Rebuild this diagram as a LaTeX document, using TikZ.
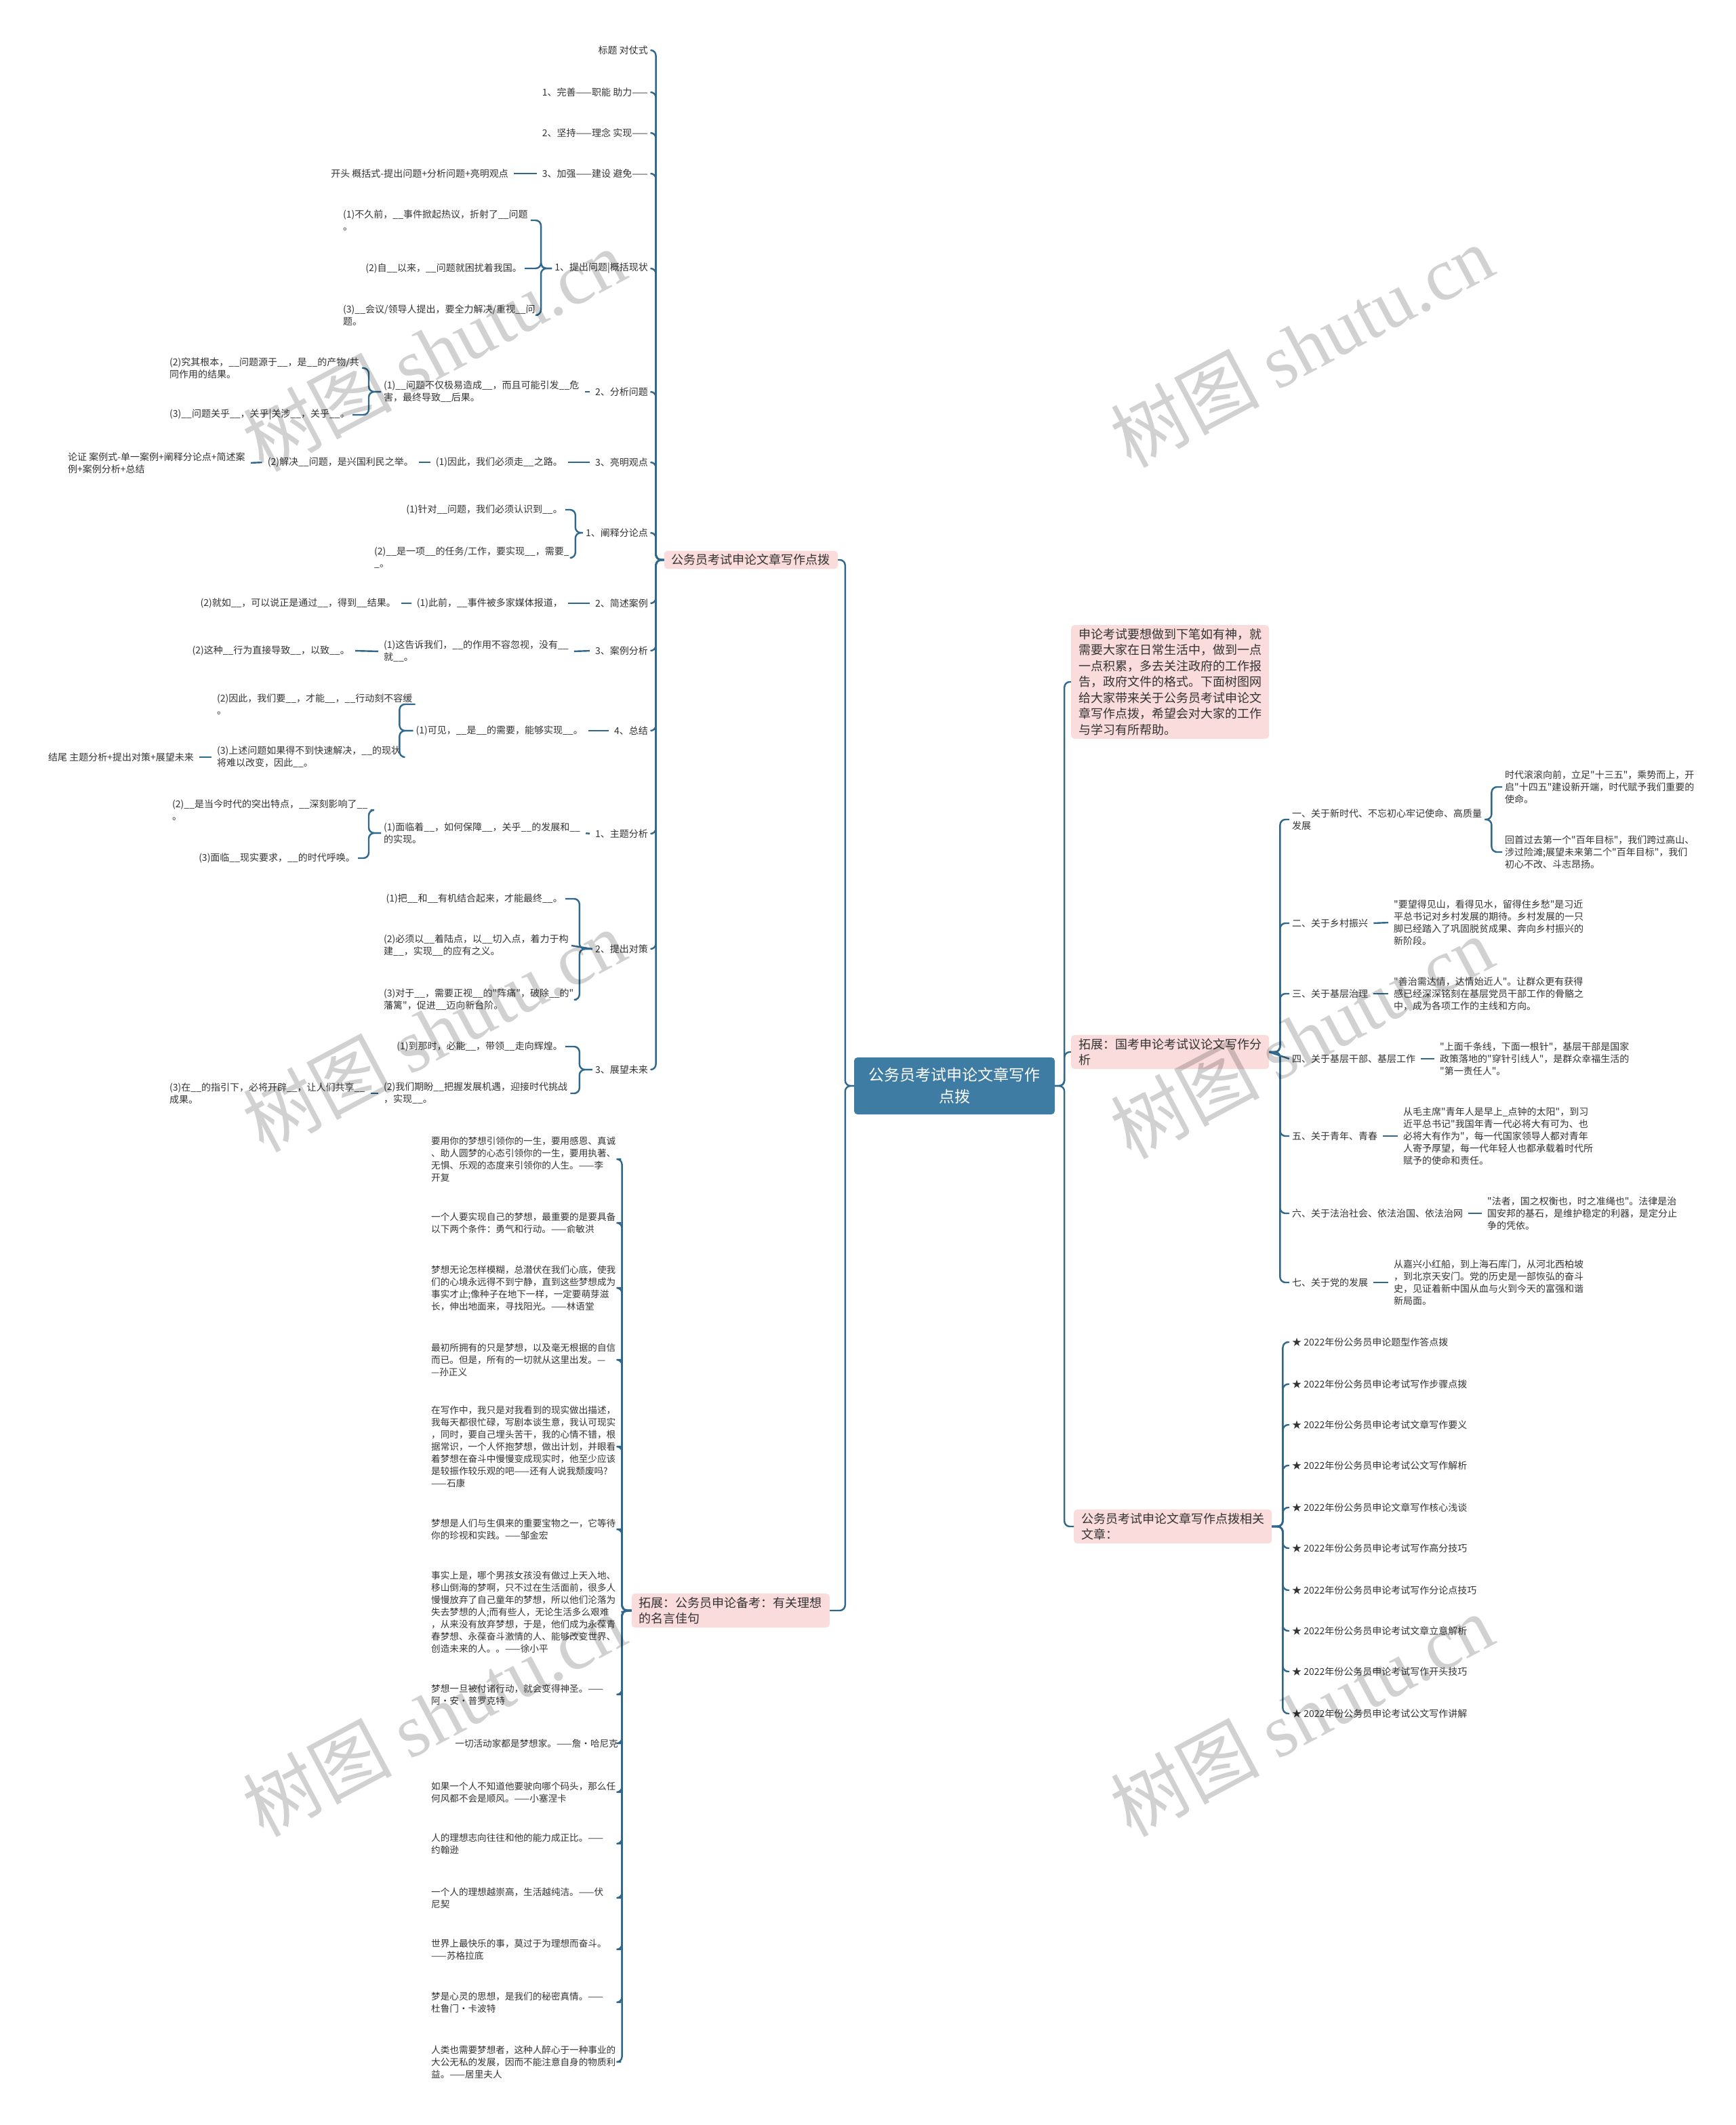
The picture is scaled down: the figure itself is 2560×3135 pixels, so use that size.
\documentclass[tikz,border=0pt]{standalone}
\usepackage{fontspec}
\setmainfont{Noto Sans CJK SC}[Ligatures=TeXOff]
\newfontfamily\wmlatin{Liberation Serif}
\definecolor{linec}{HTML}{2F688C}
\definecolor{rootc}{HTML}{3E7CA4}
\definecolor{pinkc}{HTML}{FADCDC}
\definecolor{txtc}{HTML}{333333}
\newcommand\blk{\_\_}
\begin{document}
\begin{tikzpicture}[x=1pt,y=-1pt,
  base/.style={font=\fontsize{14}{18}\selectfont, text=txtc, inner xsep=4pt, inner ysep=2pt, align=left},
  quote/.style={base, font=\fontsize{13.6}{18}\selectfont, text width=276pt},
  pinkbox/.style={fill=pinkc, rounded corners=5pt, font=\fontsize{18}{23.5}\selectfont, text=txtc, inner xsep=11pt, inner ysep=5pt, align=left},
  rootbox/.style={fill=rootc, rounded corners=5pt, font=\fontsize{23}{32}\selectfont, text=white, inner xsep=20pt, inner ysep=10pt, align=center, minimum width=296pt, minimum height=84pt},
  conn/.style={draw=linec, line width=2.4pt, rounded corners=8pt},
  link/.style={draw=linec, line width=2.4pt, shorten <=4pt, shorten >=4pt},
  wm/.style={font=\fontsize{110}{110}\selectfont, text=black, text opacity=0.18, inner sep=0pt}
]
\fill[white] (0,0) rectangle (2560,3135);
\useasboundingbox (0,0) rectangle (2560,3135);

% root
\node[rootbox] (root) at (1408,1602) {公务员考试申论文章写作\\点拨};

% ---------- left branch 1 ----------
\node[pinkbox, anchor=east] (b1) at (1236,826) {公务员考试申论文章写作点拨};

\node[base, anchor=east] (c1) at (960,74) {标题 对仗式};
\node[base, anchor=east] (c2) at (960,136) {1、完善——职能 助力——};
\node[base, anchor=east] (c3) at (960,196) {2、坚持——理念 实现——};
\node[base, anchor=east] (c4) at (960,256) {3、加强——建设 避免——};
\node[base, anchor=east] (c5) at (960,396) {1、提出问题|概括现状};
\node[base, anchor=east] (c6) at (960,578) {2、分析问题};
\node[base, anchor=east] (c7) at (960,682) {3、亮明观点};
\node[base, anchor=east] (c8) at (960,786) {1、阐释分论点};
\node[base, anchor=east] (c9) at (960,890) {2、简述案例};
\node[base, anchor=east] (c10) at (960,960) {3、案例分析};
\node[base, anchor=east] (c11) at (960,1078) {4、总结};
\node[base, anchor=east] (c12) at (960,1230) {1、主题分析};
\node[base, anchor=east] (c13) at (960,1400) {2、提出对策};
\node[base, anchor=east] (c14) at (960,1578) {3、展望未来};

\node[base, anchor=east] (c4d) at (754,256) {开头 概括式-提出问题+分析问题+亮明观点};

\node[base, anchor=west] (c5a) at (502,325) {(1)不久前，\blk 事件掀起热议，折射了\blk 问题\\。};
\node[base, anchor=east] (c5b) at (774,396) {(2)自\blk 以来，\blk 问题就困扰着我国。};
\node[base, anchor=west] (c5c) at (502,465) {(3)\blk 会议/领导人提出，要全力解决/重视\blk 问\\题。};

\node[base, anchor=west] (c6a) at (562,578) {(1)\blk 问题不仅极易造成\blk ，而且可能引发\blk 危\\害，最终导致\blk 后果。};
\node[base, anchor=west] (c6b) at (246,543) {(2)究其根本，\blk 问题源于\blk ，是\blk 的产物/共\\同作用的结果。};
\node[base, anchor=east] (c6c) at (520,612) {(3)\blk 问题关乎\blk ，关乎|关涉\blk ，关乎\blk 。};

\node[base, anchor=east] (c7a) at (834,682) {(1)因此，我们必须走\blk 之路。};
\node[base, anchor=east] (c7b) at (614,682) {(2)解决\blk 问题，是兴国利民之举。};
\node[base, anchor=west] (c7c) at (96,683) {论证 案例式-单一案例+阐释分论点+简述案\\例+案例分析+总结};

\node[base, anchor=east] (c8a) at (834,752) {(1)针对\blk 问题，我们必须认识到\blk 。};
\node[base, anchor=west] (c8b) at (548,823) {(2)\blk 是一项\blk 的任务/工作，要实现\blk ，需要\_\\\_。};

\node[base, anchor=east] (c9a) at (834,890) {(1)此前，\blk 事件被多家媒体报道，};
\node[base, anchor=east] (c9b) at (588,890) {(2)就如\blk ，可以说正是通过\blk ，得到\blk 结果。};

\node[base, anchor=west] (c10a) at (562,961) {(1)这告诉我们，\blk 的作用不容忽视，没有\blk\\就\blk 。};
\node[base, anchor=east] (c10b) at (520,960) {(2)这种\blk 行为直接导致\blk ，以致\blk 。};

\node[base, anchor=east] (c11a) at (864,1078) {(1)可见，\blk 是\blk 的需要，能够实现\blk 。};
\node[base, anchor=west] (c11b) at (316,1039) {(2)因此，我们要\blk ，才能\blk ，\blk 行动刻不容缓\\。};
\node[base, anchor=west] (c11c) at (316,1117) {(3)上述问题如果得不到快速解决，\blk 的现状\\将难以改变，因此\blk 。};
\node[base, anchor=east] (c11d) at (290,1117) {结尾 主题分析+提出对策+展望未来};

\node[base, anchor=west] (c12a) at (562,1229) {(1)面临着\blk ，如何保障\blk ，关乎\blk 的发展和\blk\\的实现。};
\node[base, anchor=west] (c12b) at (250,1195) {(2)\blk 是当今时代的突出特点，\blk 深刻影响了\blk\\。};
\node[base, anchor=east] (c12c) at (528,1266) {(3)面临\blk 现实要求，\blk 的时代呼唤。};

\node[base, anchor=east] (c13a) at (834,1326) {(1)把\blk 和\blk 有机结合起来，才能最终\blk 。};
\node[base, anchor=west] (c13b) at (562,1395) {(2)必须以\blk 着陆点，以\blk 切入点，着力于构\\建\blk ，实现\blk 的应有之义。};
\node[base, anchor=west] (c13c) at (562,1475) {(3)对于\blk ，需要正视\blk 的"阵痛"，破除\blk 的"\\藩篱"，促进\blk 迈向新台阶。};

\node[base, anchor=east] (c14a) at (834,1544) {(1)到那时，必能\blk ，带领\blk 走向辉煌。};
\node[base, anchor=west] (c14b) at (562,1613) {(2)我们期盼\blk 把握发展机遇，迎接时代挑战\\，实现\blk 。};
\node[base, anchor=west] (c14c) at (246,1613) {(3)在\blk 的指引下，必将开辟\blk ，让人们共享\blk\\成果。};

% ---------- left branch 2 (quotes) ----------
\node[pinkbox, anchor=east] (b2) at (1224,2376) {拓展：公务员申论备考：有关理想\\的名言佳句};

\node[quote, anchor=west] (q1) at (632,1710) {要用你的梦想引领你的一生，要用感恩、真诚\\、助人圆梦的心态引领你的一生，要用执著、\\无惧、乐观的态度来引领你的人生。——李\\开复};
\node[quote, anchor=west] (q2) at (632,1804) {一个人要实现自己的梦想，最重要的是要具备\\以下两个条件：勇气和行动。——俞敏洪};
\node[quote, anchor=west] (q3) at (632,1900) {梦想无论怎样模糊，总潜伏在我们心底，使我\\们的心境永远得不到宁静，直到这些梦想成为\\事实才止;像种子在地下一样，一定要萌芽滋\\长，伸出地面来，寻找阳光。——林语堂};
\node[quote, anchor=west] (q4) at (632,2006) {最初所拥有的只是梦想，以及毫无根据的自信\\而已。但是，所有的一切就从这里出发。—\\—孙正义};
\node[quote, anchor=west] (q5) at (632,2134) {在写作中，我只是对我看到的现实做出描述，\\我每天都很忙碌，写剧本谈生意，我认可现实\\，同时，要自己埋头苦干，我的心情不错，根\\据常识，一个人怀抱梦想，做出计划，并眼看\\着梦想在奋斗中慢慢变成现实时，他至少应该\\是较振作较乐观的吧——还有人说我颓废吗?\\——石康};
\node[quote, anchor=west] (q6) at (632,2256) {梦想是人们与生俱来的重要宝物之一，它等待\\你的珍视和实践。——邹金宏};
\node[quote, anchor=west] (q7) at (632,2378) {事实上是，哪个男孩女孩没有做过上天入地、\\移山倒海的梦啊，只不过在生活面前，很多人\\慢慢放弃了自己童年的梦想，所以他们沦落为\\失去梦想的人;而有些人，无论生活多么艰难\\，从来没有放弃梦想，于是，他们成为永葆青\\春梦想、永葆奋斗激情的人、能够改变世界、\\创造未来的人。。——徐小平};
\node[quote, anchor=west] (q8) at (632,2500) {梦想一旦被付诸行动，就会变得神圣。——\\阿·安·普罗克特};
\node[base, font=\fontsize{13.6}{18}\selectfont, anchor=east] (q9) at (916,2572) {一切活动家都是梦想家。——詹·哈尼克};
\node[quote, anchor=west] (q10) at (632,2644) {如果一个人不知道他要驶向哪个码头，那么任\\何风都不会是顺风。——小塞涅卡};
\node[quote, anchor=west] (q11) at (632,2720) {人的理想志向往往和他的能力成正比。——\\约翰逊};
\node[quote, anchor=west] (q12) at (632,2800) {一个人的理想越崇高，生活越纯洁。——伏\\尼契};
\node[quote, anchor=west] (q13) at (632,2876) {世界上最快乐的事，莫过于为理想而奋斗。\\——苏格拉底};
\node[quote, anchor=west] (q14) at (632,2954) {梦是心灵的思想，是我们的秘密真情。——\\杜鲁门·卡波特};
\node[quote, anchor=west] (q15) at (632,3042) {人类也需要梦想者，这种人醉心于一种事业的\\大公无私的发展，因而不能注意自身的物质利\\益。——居里夫人};

% ---------- right side ----------
\node[pinkbox, anchor=west] (ra) at (1580,1006) {申论考试要想做到下笔如有神，就\\需要大家在日常生活中，做到一点\\一点积累，多去关注政府的工作报\\告，政府文件的格式。下面树图网\\给大家带来关于公务员考试申论文\\章写作点拨，希望会对大家的工作\\与学习有所帮助。};
\node[pinkbox, anchor=west] (rb) at (1580,1552) {拓展：国考申论考试议论文写作分\\析};
\node[pinkbox, anchor=west] (rc) at (1584,2252) {公务员考试申论文章写作点拨相关\\文章：};

\node[base, anchor=west] (rr1) at (1902,1209) {一、关于新时代、不忘初心牢记使命、高质量\\发展};
\node[base, anchor=west] (rr1a) at (2216,1161) {时代滚滚向前，立足"十三五"，乘势而上，开\\启"十四五"建设新开端，时代赋予我们重要的\\使命。};
\node[base, anchor=west] (rr1b) at (2216,1257) {回首过去第一个"百年目标"，我们跨过高山、\\涉过险滩;展望未来第二个"百年目标"，我们\\初心不改、斗志昂扬。};
\node[base, anchor=west] (rr2) at (1902,1362) {二、关于乡村振兴};
\node[base, anchor=west] (rr2a) at (2052,1361) {"要望得见山，看得见水，留得住乡愁"是习近\\平总书记对乡村发展的期待。乡村发展的一只\\脚已经踏入了巩固脱贫成果、奔向乡村振兴的\\新阶段。};
\node[base, anchor=west] (rr3) at (1902,1466) {三、关于基层治理};
\node[base, anchor=west] (rr3a) at (2052,1466) {"善治需达情，达情始近人"。让群众更有获得\\感已经深深铭刻在基层党员干部工作的骨骼之\\中，成为各项工作的主线和方向。};
\node[base, anchor=west] (rr4) at (1902,1562) {四、关于基层干部、基层工作};
\node[base, anchor=west] (rr4a) at (2120,1562) {"上面千条线，下面一根针"，基层干部是国家\\政策落地的"穿针引线人"，是群众幸福生活的\\"第一责任人"。};
\node[base, anchor=west] (rr5) at (1902,1676) {五、关于青年、青春};
\node[base, anchor=west] (rr5a) at (2066,1676) {从毛主席"青年人是早上\_点钟的太阳"，到习\\近平总书记"我国年青一代必将大有可为、也\\必将大有作为"，每一代国家领导人都对青年\\人寄予厚望，每一代年轻人也都承载着时代所\\赋予的使命和责任。};
\node[base, anchor=west] (rr6) at (1902,1790) {六、关于法治社会、依法治国、依法治网};
\node[base, anchor=west] (rr6a) at (2190,1790) {"法者，国之权衡也，时之准绳也"。法律是治\\国安邦的基石，是维护稳定的利器，是定分止\\争的凭依。};
\node[base, anchor=west] (rr7) at (1902,1892) {七、关于党的发展};
\node[base, anchor=west] (rr7a) at (2052,1892) {从嘉兴小红船，到上海石库门，从河北西柏坡\\，到北京天安门。党的历史是一部恢弘的奋斗\\史，见证着新中国从血与火到今天的富强和谐\\新局面。};

\node[base, anchor=west] (s1) at (1902,1980) {★ 2022年份公务员申论题型作答点拨};
\node[base, anchor=west] (s2) at (1902,2042) {★ 2022年份公务员申论考试写作步骤点拨};
\node[base, anchor=west] (s3) at (1902,2102) {★ 2022年份公务员申论考试文章写作要义};
\node[base, anchor=west] (s4) at (1902,2162) {★ 2022年份公务员申论考试公文写作解析};
\node[base, anchor=west] (s5) at (1902,2224) {★ 2022年份公务员申论文章写作核心浅谈};
\node[base, anchor=west] (s6) at (1902,2284) {★ 2022年份公务员申论考试写作高分技巧};
\node[base, anchor=west] (s7) at (1902,2346) {★ 2022年份公务员申论考试写作分论点技巧};
\node[base, anchor=west] (s8) at (1902,2406) {★ 2022年份公务员申论考试文章立意解析};
\node[base, anchor=west] (s9) at (1902,2466) {★ 2022年份公务员申论考试写作开头技巧};
\node[base, anchor=west] (s10) at (1902,2528) {★ 2022年份公务员申论考试公文写作讲解};

% ---------- connectors ----------
\draw[conn] (root.west) -- ++(-13,0) |- (b1.east);
\draw[conn] (root.west) -- ++(-13,0) |- (b2.east);
\draw[conn] (root.east) -- ++(14,0) |- (ra.west);
\draw[conn] (root.east) -- ++(14,0) |- (rb.west);
\draw[conn] (root.east) -- ++(14,0) |- (rc.west);

\foreach \c in {c1,c2,c3,c4,c5,c6,c7,c8,c9,c10,c11,c12,c13,c14}
  \draw[conn] (b1.west) -- ++(-12,0) |- (\c.east);

\foreach \c in {c5a,c5b,c5c} \draw[conn] (c5.west) -- ++(-16,0) |- (\c.east);
\foreach \c in {c6b,c6c} \draw[conn] (c6a.west) -- ++(-18,0) |- (\c.east);
\foreach \c in {c8a,c8b} \draw[conn] (c8.west) -- ++(-11,0) |- (\c.east);
\foreach \c in {c11b,c11c} \draw[conn] (c11a.west) -- ++(-20,0) |- (\c.east);
\foreach \c in {c12b,c12c} \draw[conn] (c12a.west) -- ++(-18,0) |- (\c.east);
\foreach \c in {c13a,c13c} \draw[conn] (c13.west) -- ++(-19,0) |- (\c.east);
\draw[conn] (c13.west) -- (c13b.east);
\foreach \c in {c14a,c14b} \draw[conn] (c14.west) -- ++(-19,0) |- (\c.east);

\draw[link] (c4.west) -- (c4d.east);
\draw[link] (c6.west) -- (c6a.east);
\draw[link] (c7.west) -- (c7a.east);
\draw[link] (c7a.west) -- (c7b.east);
\draw[link] (c7b.west) -- (c7c.east);
\draw[link] (c9.west) -- (c9a.east);
\draw[link] (c9a.west) -- (c9b.east);
\draw[link] (c10.west) -- (c10a.east);
\draw[link] (c10a.west) -- (c10b.east);
\draw[link] (c11.west) -- (c11a.east);
\draw[link] (c11c.west) -- (c11d.east);
\draw[link] (c12.west) -- (c12a.east);
\draw[link] (c14b.west) -- (c14c.east);

\foreach \q in {q1,q2,q3,q4,q5,q6,q8,q9,q10,q11,q12,q13,q14,q15}
  \draw[conn] (b2.west) -- ++(-14,0) |- (\q.east);
\draw[conn] (b2.west) -- (q7.east);

\foreach \r in {rr1,rr2,rr3,rr5,rr6,rr7}
  \draw[conn] (rb.east) -- ++(16,0) |- (\r.west);
\draw[conn] (rb.east) -- (rr4.west);
\foreach \r in {rr1a,rr1b} \draw[conn] (rr1.east) -- ++(10,0) |- (\r.west);
\draw[link] (rr2.east) -- (rr2a.west);
\draw[link] (rr3.east) -- (rr3a.west);
\draw[link] (rr4.east) -- (rr4a.west);
\draw[link] (rr5.east) -- (rr5a.west);
\draw[link] (rr6.east) -- (rr6a.west);
\draw[link] (rr7.east) -- (rr7a.west);

\foreach \s in {s1,s2,s3,s4,s5,s6,s7,s8,s9,s10}
  \draw[conn] (rc.east) -- ++(16,0) |- (\s.west);

% ---------- watermarks ----------
\node[wm, rotate=28] (w1) at (640,516) {树图 {\wmlatin shutu.cn}};
\node[wm, rotate=28] (w2) at (1920,510) {树图 {\wmlatin shutu.cn}};
\node[wm, rotate=28] (w3) at (640,1520) {树图 {\wmlatin shutu.cn}};
\node[wm, rotate=28] (w4) at (1920,1530) {树图 {\wmlatin shutu.cn}};
\node[wm, rotate=28] (w5) at (640,2530) {树图 {\wmlatin shutu.cn}};
\node[wm, rotate=28] (w6) at (1920,2530) {树图 {\wmlatin shutu.cn}};
\end{tikzpicture}
\end{document}
